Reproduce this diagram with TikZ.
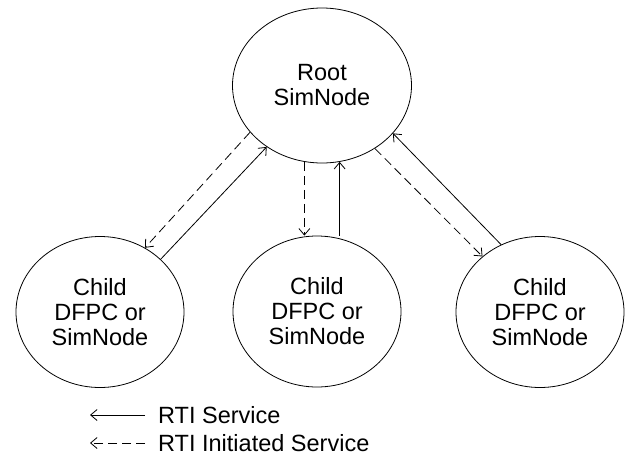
\documentclass[tikz,border=0pt]{standalone}
\usepackage{fontspec}
\setmainfont{Liberation Sans}
\usetikzlibrary{arrows.meta,shapes.geometric}
\tikzset{
  bubble/.style={draw, ellipse, line width=0.8pt, inner sep=0pt, align=center,
    font=\fontsize{23.5}{25}\selectfont},
  rootbubble/.style={bubble, minimum width=179pt, minimum height=155pt},
  childbubble/.style={bubble, minimum width=168pt, minimum height=151pt},
  conn/.style={line width=0.8pt, -{Straight Barb[length=6.5pt,width=11pt,line width=0.8pt]}},
  dconn/.style={conn, dash pattern=on 9pt off 5pt},
  legtext/.style={anchor=west, font=\fontsize{23.5}{25}\selectfont, inner sep=0pt}
}
\begin{document}
\begin{tikzpicture}[x=1pt,y=-1pt]
\useasboundingbox (0,0) rectangle (632,459);
\node[rootbubble] (root) at (322,85.5) {Root\\SimNode};
\node[childbubble] (c1) at (100,312) {Child\\DFPC or\\SimNode};
\node[childbubble] (c2) at (317,311.5) {Child\\DFPC or\\SimNode};
\node[childbubble] (c3) at (540,312) {Child\\DFPC or\\SimNode};
% left pair
\draw[dconn] (root.213.6) -- (c1.55.3);
\draw[conn] (c1.41.1) -- (root.228.8);
% middle pair
\draw[dconn] (root.257.6) -- (root.257.6 |- c2.north);
\draw[conn] (root.283 |- c2.north) -- (root.283);
% right pair
\draw[dconn] (root.310.1) -- (c3.136);
\draw[conn] (c3.120.8) -- (root.326.4);
% legend
\node[legtext] (l1) at (158,415) {RTI Service};
\node[legtext] (l2) at (158,443) {RTI Initiated Service};
\coordinate (a1) at (90,415);
\coordinate (a2) at (90,443);
\draw[conn] ([xshift=-13pt]l1.west) -- (a1);
\draw[dconn] ([xshift=-13pt]l2.west) -- (a2);
\end{tikzpicture}
\end{document}
